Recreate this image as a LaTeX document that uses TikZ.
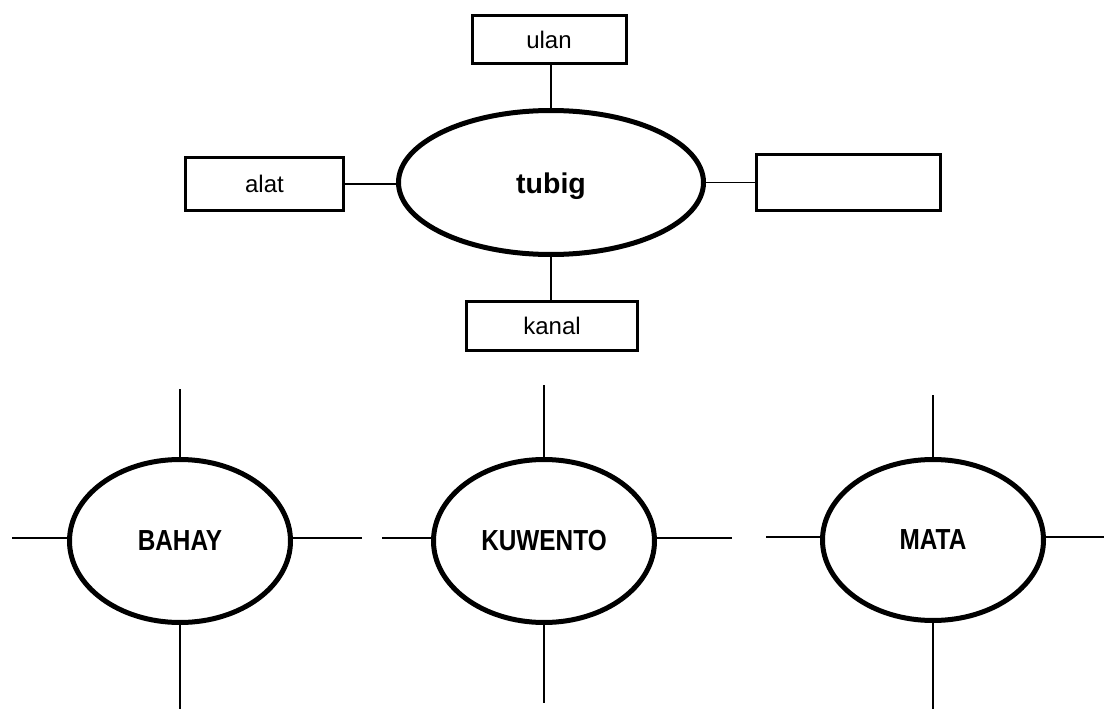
\documentclass[tikz,border=0pt]{standalone}
\usepackage{fontspec}
\setmainfont{Liberation Sans}
\usetikzlibrary{shapes.geometric}
\begin{document}
\begin{tikzpicture}[x=1pt,y=-1pt,
  box/.style={draw,line width=3pt,rectangle,inner sep=0pt,font=\fontsize{24}{26}\selectfont},
  oval/.style={draw,line width=5pt,ellipse,inner sep=0pt},
  spoke/.style={line width=1.4pt},
  bigword/.style={font=\fontsize{28.5}{32}\selectfont\bfseries},
  capword/.style={font=\fontsize{29}{32}\selectfont\bfseries}]
\useasboundingbox (0,0) rectangle (1104,709);
% top cluster
\node[oval,minimum width=305pt,minimum height=144pt,bigword] (tubig) at (551,182.5) {\raisebox{-4pt}[\height][\depth]{tubig}};
\node[box,minimum width=154pt,minimum height=48pt] (ulan) at (549,39.5) {ulan};
\node[box,minimum width=158pt,minimum height=53pt] (alat) at (264.5,184) {alat};
\node[box,minimum width=184pt,minimum height=56pt] (blank) at (848.5,182.5) {};
\node[box,minimum width=171pt,minimum height=49pt] (kanal) at (552,326) {kanal};
\draw[spoke] (tubig.north) -- (tubig.north |- ulan.south);
\draw[spoke] (tubig.south) -- (tubig.south |- kanal.north);
\draw[spoke] (alat.east) -- (alat.east -| tubig.west);
\draw[spoke] (tubig.east) -- (blank.west);
% bottom ovals
\node[oval,minimum width=221pt,minimum height=163pt,capword] (bahay) at (180,541) {\scalebox{0.84}[1]{BAHAY}};
\node[oval,minimum width=221pt,minimum height=163pt,capword] (kuwento) at (544,541) {\scalebox{0.84}[1]{KUWENTO}};
\node[oval,minimum width=221pt,minimum height=161pt,capword] (mata) at (933,540) {\scalebox{0.84}[1]{MATA}};
% spoke ends
\coordinate (bT) at (180,389);
\coordinate (bB) at (180,709);
\coordinate (bL) at (12,538);
\coordinate (bR) at (362,538);
\coordinate (kT) at (544,385);
\coordinate (kB) at (544,703);
\coordinate (kL) at (382,538);
\coordinate (kR) at (732,538);
\coordinate (mT) at (933,395);
\coordinate (mB) at (933,709);
\coordinate (mL) at (766,537);
\coordinate (mR) at (1104,537);
\draw[spoke] (bT) -- (bahay.north);
\draw[spoke] (bahay.south) -- (bB);
\draw[spoke] (bL) -- (bL -| bahay.west);
\draw[spoke] (bR -| bahay.east) -- (bR);
\draw[spoke] (kT) -- (kuwento.north);
\draw[spoke] (kuwento.south) -- (kB);
\draw[spoke] (kL) -- (kL -| kuwento.west);
\draw[spoke] (kR -| kuwento.east) -- (kR);
\draw[spoke] (mT) -- (mata.north);
\draw[spoke] (mata.south) -- (mB);
\draw[spoke] (mL) -- (mL -| mata.west);
\draw[spoke] (mR -| mata.east) -- (mR);
\end{tikzpicture}
\end{document}
